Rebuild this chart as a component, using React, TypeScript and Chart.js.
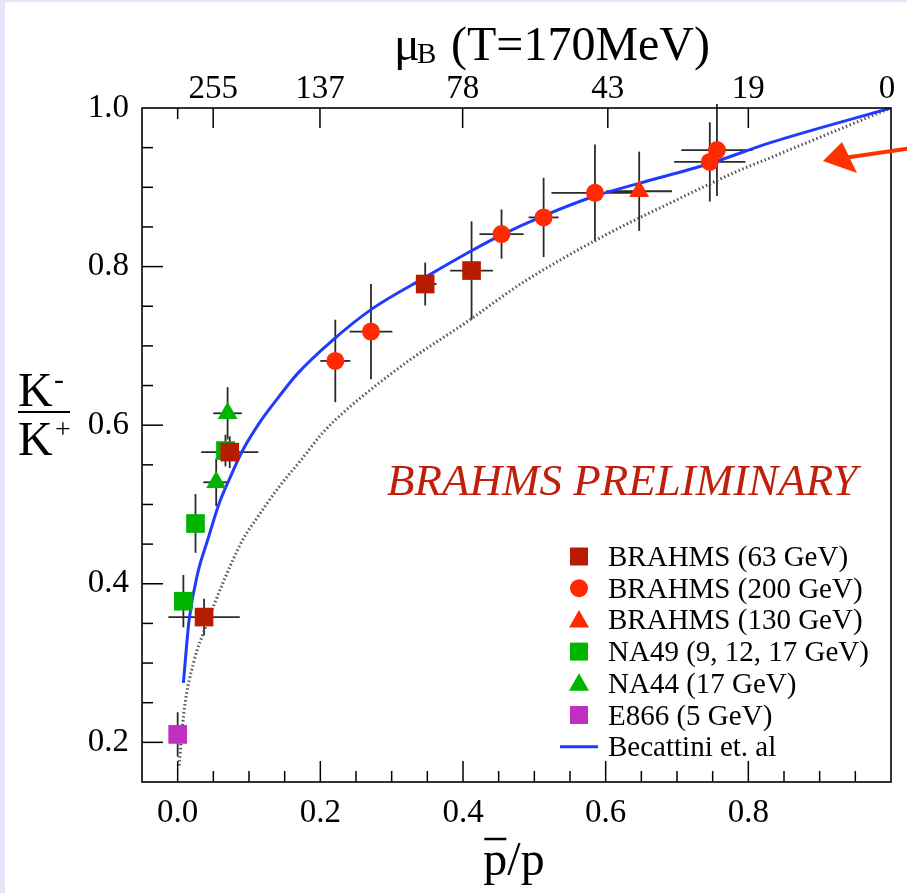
import React, { useEffect, useRef } from 'react';
import { Chart, registerables } from 'chart.js';

Chart.register(...registerables);

const FONT = '"Liberation Serif", "Times New Roman", Times, serif';

// ---------- data ----------
// BRAHMS (63 GeV)
const b63X = [0.037, 0.073, 0.347, 0.412];
const b63Y = [0.358, 0.566, 0.778, 0.795];
const b63XErr = [0.05, 0.04, 0.016, 0.03];
const b63YErr = [0.023, 0.02, 0.027, 0.062];

// BRAHMS (200 GeV)
const b200X = [0.221, 0.271, 0.454, 0.513, 0.585, 0.746, 0.756];
const b200Y = [0.681, 0.718, 0.841, 0.862, 0.893, 0.932, 0.947];
const b200XErr = [0.021, 0.03, 0.031, 0.021, 0.061, 0.05, 0.05];
const b200YErr = [0.052, 0.06, 0.031, 0.05, 0.061, 0.05, 0.058];

// BRAHMS (130 GeV)
const b130X = [0.647];
const b130Y = [0.895];
const b130XErr = [0.046];
const b130YErr = [0.05];

// NA49 (9, 12, 17 GeV)
const na49X = [0.008, 0.025, 0.067];
const na49Y = [0.378, 0.476, 0.568];
const na49XErr = [0, 0, 0];
const na49YErr = [0.033, 0.037, 0.02];

// NA44 (17 GeV)
const na44X = [0.054, 0.07];
const na44Y = [0.528, 0.615];
const na44XErr = [0.018, 0.02];
const na44YErr = [0.03, 0.033];

// E866 (5 GeV)
const e866X = [0.0];
const e866Y = [0.21];
const e866XErr = [0];
const e866YErr = [0.028];

// Becattini et. al (solid blue)
const becX = [0.008, 0.016, 0.028, 0.042, 0.058, 0.072, 0.091, 0.117, 0.142, 0.168, 0.217, 0.273, 0.348, 0.41, 0.454, 0.513, 0.585, 0.647, 0.746, 0.83, 1.0];
const becY = [0.275, 0.354, 0.413, 0.455, 0.501, 0.531, 0.568, 0.606, 0.636, 0.665, 0.707, 0.747, 0.787, 0.819, 0.84, 0.864, 0.889, 0.905, 0.93, 0.956, 1.0];

// dotted reference curve
const dotX = [0.002, 0.009, 0.023, 0.039, 0.063, 0.091, 0.112, 0.142, 0.173, 0.203, 0.236, 0.278, 0.325, 0.405, 0.484, 0.596, 0.69, 0.784, 0.83, 1.0];
const dotY = [0.171, 0.24, 0.303, 0.345, 0.4, 0.455, 0.484, 0.522, 0.556, 0.59, 0.619, 0.65, 0.682, 0.73, 0.78, 0.838, 0.88, 0.92, 0.937, 1.0];

// axis ticks
const xTickVals = [0, 0.2, 0.4, 0.6, 0.8];
const yTickVals = [0.2, 0.4, 0.6, 0.8, 1.0];
const muTickVals = [0.0498, 0.1995, 0.3995, 0.603, 0.8, 1.0];
const muTickLabels = ['255', '137', '78', '43', '19', '0 '];

const legendLabels = [
  'BRAHMS (63 GeV)',
  'BRAHMS (200 GeV)',
  'BRAHMS (130 GeV)',
  'NA49 (9, 12, 17 GeV)',
  'NA44 (17 GeV)',
  'E866 (5 GeV)',
  'Becattini et. al',
];

// ---------- styles ----------
const C63 = '#b81c00';
const C200 = '#ff2a00';
const CGREEN = '#00b400';
const CMAG = '#c030c0';
const CBLUE = '#1f3bff';
const CDOT = '#555555';

const pts = (xs: number[], ys: number[]) => xs.map((x, i) => ({ x, y: ys[i] }));

const errSeries = [
  { x: b63X, y: b63Y, xe: b63XErr, ye: b63YErr },
  { x: b200X, y: b200Y, xe: b200XErr, ye: b200YErr },
  { x: b130X, y: b130Y, xe: b130XErr, ye: b130YErr },
  { x: na49X, y: na49Y, xe: na49XErr, ye: na49YErr },
  { x: na44X, y: na44Y, xe: na44XErr, ye: na44YErr },
  { x: e866X, y: e866Y, xe: e866XErr, ye: e866YErr },
];

const legendShapes = [
  { shape: 'rect', color: C63 },
  { shape: 'circle', color: C200 },
  { shape: 'triangle', color: C200 },
  { shape: 'rect', color: CGREEN },
  { shape: 'triangle', color: CGREEN },
  { shape: 'rect', color: CMAG },
  { shape: 'line', color: CBLUE },
];

const bgPlugin = {
  id: 'bg',
  beforeDraw(chart: any) {
    const ctx = chart.ctx;
    ctx.save();
    ctx.fillStyle = '#ffffff';
    ctx.fillRect(0, 0, chart.width, chart.height);
    ctx.fillStyle = '#e4e4fa';
    ctx.fillRect(0, 0, 5, chart.height);
    ctx.fillRect(0, 0, chart.width, 2);
    ctx.restore();
  },
};

const errPlugin = {
  id: 'errbars',
  beforeDatasetsDraw(chart: any) {
    const ctx = chart.ctx;
    const xs = chart.scales.x;
    const ys = chart.scales.y;
    ctx.save();
    ctx.strokeStyle = '#2a2a2a';
    ctx.lineWidth = 1.8;
    errSeries.forEach((s) => {
      s.x.forEach((xv, i) => {
        const yv = s.y[i];
        const px = xs.getPixelForValue(xv);
        const py = ys.getPixelForValue(yv);
        if (s.ye[i] > 0) {
          ctx.beginPath();
          ctx.moveTo(px, ys.getPixelForValue(yv - s.ye[i]));
          ctx.lineTo(px, ys.getPixelForValue(yv + s.ye[i]));
          ctx.stroke();
        }
        if (s.xe[i] > 0) {
          ctx.beginPath();
          ctx.moveTo(xs.getPixelForValue(xv - s.xe[i]), py);
          ctx.lineTo(xs.getPixelForValue(xv + s.xe[i]), py);
          ctx.stroke();
        }
      });
    });
    ctx.restore();
  },
};

function drawShape(ctx: CanvasRenderingContext2D, shape: string, color: string, cx: number, cy: number) {
  ctx.fillStyle = color;
  ctx.strokeStyle = color;
  ctx.beginPath();
  if (shape === 'rect') {
    ctx.rect(cx - 9, cy - 9, 18, 18);
    ctx.fill();
  } else if (shape === 'circle') {
    ctx.arc(cx, cy, 9, 0, Math.PI * 2);
    ctx.fill();
  } else if (shape === 'triangle') {
    ctx.moveTo(cx, cy - 10);
    ctx.lineTo(cx + 10, cy + 7.5);
    ctx.lineTo(cx - 10, cy + 7.5);
    ctx.closePath();
    ctx.fill();
  } else if (shape === 'line') {
    ctx.lineWidth = 3;
    ctx.moveTo(cx - 19, cy);
    ctx.lineTo(cx + 19, cy);
    ctx.stroke();
  }
}

const decoPlugin = {
  id: 'deco',
  afterDraw(chart: any) {
    const ctx: CanvasRenderingContext2D = chart.ctx;
    const { left, right, top, bottom } = chart.chartArea;
    const xs = chart.scales.x;
    const ys = chart.scales.y;
    ctx.save();

    // frame
    ctx.strokeStyle = '#000';
    ctx.lineWidth = 1.6;
    ctx.strokeRect(left, top, right - left, bottom - top);

    // inward ticks
    ctx.lineWidth = 1.5;
    const line = (x1: number, y1: number, x2: number, y2: number) => {
      ctx.beginPath();
      ctx.moveTo(x1, y1);
      ctx.lineTo(x2, y2);
      ctx.stroke();
    };
    for (let k = -1; k <= 20; k++) {
      const v = k * 0.05;
      const major = k % 4 === 0 && k >= 0 && k <= 16;
      const px = xs.getPixelForValue(v);
      if (px <= left + 1 || px >= right - 1) continue;
      line(px, bottom, px, bottom - (major ? 21 : 11));
    }
    for (let k = 3; k <= 20; k++) {
      const v = k * 0.05;
      const major = k % 4 === 0;
      const py = ys.getPixelForValue(v);
      if (py <= top + 1 || py >= bottom - 1) continue;
      line(left, py, left + (major ? 21 : 11), py);
    }
    // top (mu_B) ticks
    muTickVals.forEach((v) => {
      const px = xs.getPixelForValue(v);
      if (px >= right - 1) return;
      line(px, top, px, top + 20);
    });
    line(xs.getPixelForValue(0), top, xs.getPixelForValue(0), top + 11);

    // top title
    ctx.fillStyle = '#000';
    ctx.textBaseline = 'alphabetic';
    ctx.textAlign = 'left';
    ctx.font = `48px ${FONT}`;
    ctx.fillText('\u03bc', 394, 60);
    ctx.font = `29px ${FONT}`;
    ctx.fillText('B', 417, 63);
    ctx.font = `48px ${FONT}`;
    ctx.fillText('(T=170MeV)', 451, 60);

    // x title p̄/p
    ctx.font = `48px ${FONT}`;
    const xt = 'p/p';
    const w = ctx.measureText(xt).width;
    const x0 = 514 - w / 2;
    ctx.fillText(xt, x0, 875);
    const pw = ctx.measureText('p').width;
    ctx.lineWidth = 2.5;
    line(x0 + 1, 839, x0 + pw - 1, 839);

    // y title K-/K+
    ctx.font = `48px ${FONT}`;
    ctx.fillText('K', 18, 406);
    ctx.fillText('K', 18, 455);
    ctx.font = `30px ${FONT}`;
    ctx.fillText('-', 54, 389);
    ctx.font = `28px ${FONT}`;
    ctx.fillText('+', 55, 438);
    ctx.lineWidth = 2.2;
    line(18, 412, 70, 412);

    // BRAHMS PRELIMINARY
    ctx.fillStyle = '#bf1f0c';
    ctx.font = `italic 45px ${FONT}`;
    ctx.fillText('BRAHMS PRELIMINARY', 387, 495);

    // legend
    ctx.font = `29px ${FONT}`;
    legendLabels.forEach((lab, i) => {
      const base = 566 + i * 31.7;
      const sh = legendShapes[i];
      drawShape(ctx, sh.shape, sh.color, 579, base - 9.5);
      ctx.fillStyle = '#000';
      ctx.fillText(lab, 608, base);
    });

    // red arrow
    ctx.fillStyle = '#ff3300';
    ctx.strokeStyle = '#ff3300';
    ctx.lineWidth = 4;
    line(847, 157.5, 912, 148);
    ctx.beginPath();
    ctx.moveTo(823, 161);
    ctx.lineTo(842, 142);
    ctx.lineTo(857, 173);
    ctx.closePath();
    ctx.fill();

    ctx.restore();
  },
};

export default function App() {
  const ref = useRef<HTMLCanvasElement>(null);

  useEffect(() => {
    if (!ref.current) return;
    const tickFont = { family: FONT, size: 33, lineHeight: 1 };
    const chart = new Chart(ref.current, {
      type: 'scatter',
      data: {
        datasets: [
          {
            label: 'BRAHMS (63 GeV)',
            data: pts(b63X, b63Y),
            pointStyle: 'rect',
            pointRadius: 13.2,
            backgroundColor: C63,
            borderColor: C63,
            borderWidth: 0,
          },
          {
            label: 'BRAHMS (200 GeV)',
            data: pts(b200X, b200Y),
            pointStyle: 'circle',
            pointRadius: 9,
            backgroundColor: C200,
            borderColor: C200,
            borderWidth: 0,
          },
          {
            label: 'BRAHMS (130 GeV)',
            data: pts(b130X, b130Y),
            pointStyle: 'triangle',
            pointRadius: 11.5,
            backgroundColor: C200,
            borderColor: C200,
            borderWidth: 0,
          },
          {
            label: 'NA44 (17 GeV)',
            data: pts(na44X, na44Y),
            pointStyle: 'triangle',
            pointRadius: 11.5,
            backgroundColor: CGREEN,
            borderColor: CGREEN,
            borderWidth: 0,
          },
          {
            label: 'NA49 (9, 12, 17 GeV)',
            data: pts(na49X, na49Y),
            pointStyle: 'rect',
            pointRadius: 13.2,
            backgroundColor: CGREEN,
            borderColor: CGREEN,
            borderWidth: 0,
          },
          {
            label: 'E866 (5 GeV)',
            data: pts(e866X, e866Y),
            pointStyle: 'rect',
            pointRadius: 13.2,
            backgroundColor: CMAG,
            borderColor: CMAG,
            borderWidth: 0,
          },
          {
            label: 'Becattini et. al',
            data: pts(becX, becY),
            showLine: true,
            borderColor: CBLUE,
            borderWidth: 3,
            pointRadius: 0,
            cubicInterpolationMode: 'monotone',
            fill: false,
          },
          {
            label: 'reference',
            data: pts(dotX, dotY),
            showLine: true,
            borderColor: CDOT,
            borderWidth: 3,
            borderDash: [1.5, 2.5],
            pointRadius: 0,
            cubicInterpolationMode: 'monotone',
            fill: false,
          },
        ],
      },
      options: {
        animation: false,
        responsive: false,
        events: [],
        layout: { padding: { left: 0, right: 16, top: 0, bottom: 0 } },
        plugins: {
          legend: { display: false },
          tooltip: { enabled: false },
        },
        scales: {
          x: {
            type: 'linear',
            position: 'bottom',
            min: -0.05,
            max: 1.0,
            grid: { display: false },
            border: { display: false },
            afterBuildTicks: (s: any) => {
              s.ticks = xTickVals.map((v) => ({ value: v }));
            },
            afterFit: (s: any) => {
              s.height = 111;
            },
            ticks: {
              autoSkip: false,
              maxRotation: 0,
              padding: 7,
              color: '#000',
              font: tickFont,
              callback: (v: any) => Number(v).toFixed(1),
            },
          },
          x2: {
            type: 'linear',
            position: 'top',
            min: -0.05,
            max: 1.0,
            grid: { display: false },
            border: { display: false },
            afterBuildTicks: (s: any) => {
              s.ticks = muTickVals.map((v) => ({ value: v }));
            },
            afterFit: (s: any) => {
              s.height = 108;
            },
            ticks: {
              autoSkip: false,
              maxRotation: 0,
              padding: -6,
              color: '#000',
              font: tickFont,
              callback: (_v: any, i: number) => muTickLabels[i],
            },
          },
          y: {
            type: 'linear',
            position: 'left',
            min: 0.15,
            max: 1.0,
            grid: { display: false },
            border: { display: false },
            afterBuildTicks: (s: any) => {
              s.ticks = yTickVals.map((v) => ({ value: v }));
            },
            afterFit: (s: any) => {
              s.width = 142;
            },
            ticks: {
              autoSkip: false,
              padding: 5,
              color: '#000',
              font: tickFont,
              callback: (v: any) => Number(v).toFixed(1),
            },
          },
        },
      } as any,
      plugins: [bgPlugin, errPlugin, decoPlugin],
    });
    return () => chart.destroy();
  }, []);

  return (
    <div style={{ position: 'absolute', left: 0, top: 0, width: 907, height: 893, overflow: 'hidden' }}>
      <canvas ref={ref} width={907} height={893} style={{ display: 'block', width: 907, height: 893 }} />
    </div>
  );
}
